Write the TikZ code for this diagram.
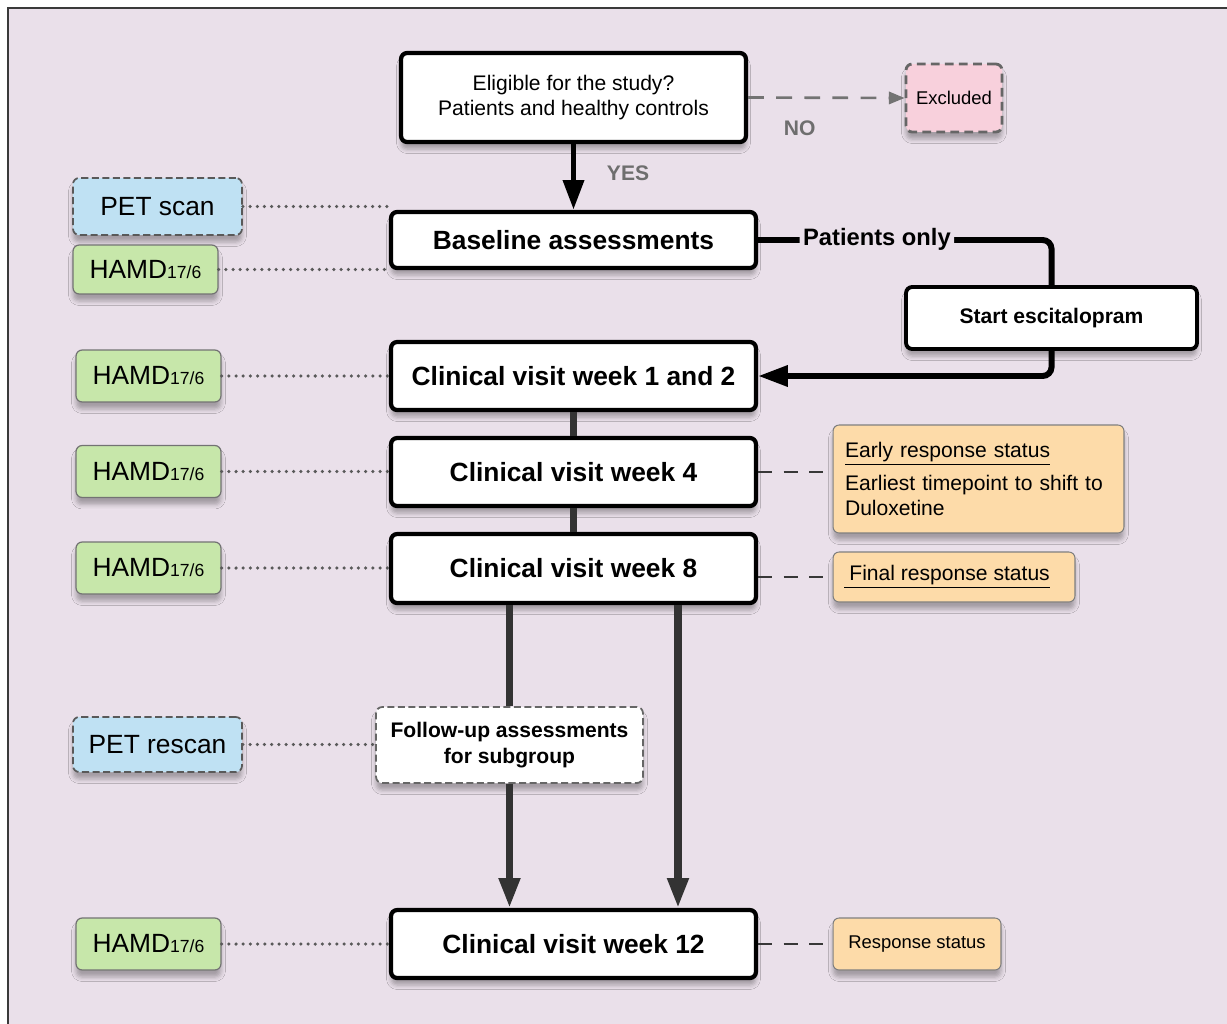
\documentclass[tikz,border=0pt]{standalone}
\usepackage{fontspec}
\setmainfont{Liberation Sans}
\usetikzlibrary{arrows.meta,shadows.blur,calc}

\definecolor{bgc}{HTML}{EAE0EA}
\definecolor{framec}{HTML}{3A3A3A}
\definecolor{petc}{HTML}{BFE1F3}
\definecolor{hamc}{HTML}{C7E7AA}
\definecolor{notec}{HTML}{FDDBA9}
\definecolor{exclc}{HTML}{F8D0DC}
\definecolor{trunkc}{HTML}{333333}
\definecolor{labc}{HTML}{6E6E6E}

\newcommand\hamdtext{HAMD{\fontsize{10}{12}\selectfont 17/6}}

\begin{document}
\begin{tikzpicture}[x=0.02cm,y=-0.02cm,
  boxbase/.style={rounded corners=3.5pt, align=center, inner sep=0pt,
    blur shadow={shadow xshift=0pt, shadow yshift=-4pt, shadow blur radius=2.5pt, shadow opacity=30}},
  visit/.style={boxbase, draw=black, line width=2.4pt, fill=white,
    minimum width=7.3cm, minimum height=1.36cm, font=\bfseries\fontsize{15}{18}\selectfont},
  hamdbox/.style={boxbase, draw=black!55, line width=0.7pt, fill=hamc,
    minimum width=2.9cm, minimum height=1.04cm, font=\fontsize{15}{18}\selectfont},
  petbox/.style={boxbase, draw=black!65, line width=1pt, dash pattern=on 4pt off 2pt, fill=petc,
    minimum width=3.38cm, font=\fontsize{15}{18}\selectfont},
  notebox/.style={boxbase, draw=black!50, line width=0.6pt, fill=notec},
  dotlink/.style={draw=black!65, line width=2pt, line cap=round, dash pattern=on 0pt off 4.1pt},
  dashlink/.style={draw=black!78, line width=1.6pt, dash pattern=on 8pt off 6.5pt},
  trunk/.style={draw=trunkc, line width=4pt},
  bigtip/.style={-{Triangle[length=17pt,width=11.5pt]}},
  answer/.style={text=labc, font=\bfseries\fontsize{12}{14}\selectfont}
]
% page and frame
\useasboundingbox (0,0) rectangle (1227,1024);
\fill[white] (0,0) rectangle (1227,1024);
\draw[framec, line width=1.7pt, fill=bgc] (8,8) rectangle (1260,1060);

% screening
\node[boxbase, draw=black, line width=2.4pt, fill=white, minimum width=6.9cm, minimum height=1.78cm,
  font=\fontsize{12}{14.6}\selectfont] (elig) at (573.5,97.5)
  {Eligible for the study?\\Patients and healthy controls};
\node[boxbase, draw=black!60, line width=1.6pt, dash pattern=on 5pt off 3pt, fill=exclc,
  minimum width=1.92cm, minimum height=1.36cm, font=\fontsize{10.5}{12}\selectfont] (excl) at (954,98) {Excluded};

% baseline
\node[visit, minimum height=1.12cm] (base) at (573.5,240) {Baseline assessments};
\node[petbox, minimum height=1.14cm] (pet) at (157.5,206.5) {PET scan};
\node[hamdbox, minimum height=0.98cm] (ham0) at (145.5,269.5) {\hamdtext};

% treatment start
\node[boxbase, draw=black, line width=2.2pt, fill=white, minimum width=5.82cm, minimum height=1.24cm,
  font=\bfseries\fontsize{12}{14}\selectfont] (start) at (1051.5,318) {Start escitalopram};

% clinical visits
\node[visit] (w12) at (573.5,376) {Clinical visit week 1 and 2};
\node[visit] (w4) at (573.5,472) {Clinical visit week 4};
\node[visit, minimum height=1.38cm] (w8) at (573.5,568.5) {Clinical visit week 8};
\node[visit] (wk12) at (573.5,944) {Clinical visit week 12};

\node[hamdbox] (ham1) at (148.5,376) {\hamdtext};
\node[hamdbox] (ham2) at (148.5,471.5) {\hamdtext};
\node[hamdbox] (ham3) at (148.5,568) {\hamdtext};
\node[hamdbox] (ham4) at (148.5,944) {\hamdtext};

% follow-up
\node[boxbase, draw=black!60, line width=1pt, dash pattern=on 4pt off 2pt, fill=white,
  minimum width=5.34cm, minimum height=1.52cm, font=\bfseries\fontsize{12}{15}\selectfont] (fu) at (509.5,745)
  {Follow-up assessments\\for subgroup};
\node[petbox, minimum height=1.1cm] (petre) at (157.5,744.5) {PET rescan};

% response notes
\node[notebox, align=left, text width=5.34cm, inner xsep=0.24cm, minimum height=2.16cm,
  font=\fontsize{12}{14.2}\selectfont] (note1) at (978.5,479)
  {\underline{Early response status}\\[4.5pt]Earliest timepoint to shift to\\Duloxetine};
\node[notebox, minimum width=4.84cm, minimum height=1.0cm, font=\fontsize{12}{14}\selectfont] (note2) at (954,577)
  {\underline{\hspace{3pt}Final response status}\hspace{8pt}};
\node[notebox, minimum width=3.36cm, minimum height=1.04cm, font=\fontsize{10.5}{12}\selectfont] (note3) at (917,944)
  {Response status};

% eligibility decision
\draw[draw=black!55, line width=1.5pt, dash pattern=on 9pt off 7pt, -{Triangle[length=9pt,width=7pt]}]
  (elig.east) -- node[answer, pos=0.33, below=9pt] {NO} (excl.west);
\draw[black, line width=3.4pt, bigtip] (elig.south) -- node[answer, right=14pt, yshift=2pt] {YES} (base.north);

% patients-only branch
\draw[black, line width=3.4pt, rounded corners=5pt]
  (base.east) -- node[pos=0.405, fill=bgc, inner xsep=2pt, inner ysep=1pt, yshift=0.5pt,
    font=\bfseries\fontsize{13.5}{15}\selectfont] {Patients only}
  (base.east -| start.north) -- (start.north);
\draw[black, line width=3.4pt, rounded corners=5pt, bigtip]
  (start.south) -- (start.south |- w12.east) -- (w12.east);

% visit trunk
\draw[trunk] (w12.south) -- (w4.north);
\draw[trunk] (w4.south) -- (w8.north);
\draw[trunk] (w8.south -| fu.north) -- (fu.north);
\draw[trunk, bigtip] (fu.south) -- (fu.south |- wk12.north);
\draw[trunk, bigtip] ([xshift=2.09cm]w8.south) -- ([xshift=2.09cm]w8.south |- wk12.north);

% assessments attached to visits
\draw[dotlink] (pet.east) -- (pet.east -| base.west);
\draw[dotlink] (ham0.east) -- (ham0.east -| base.west);
\draw[dotlink] (ham1.east) -- (w12.west);
\draw[dotlink] (ham2.east) -- (ham2.east -| w4.west);
\draw[dotlink] (ham3.east) -- (ham3.east -| w8.west);
\draw[dotlink] (petre.east) -- (petre.east -| fu.west);
\draw[dotlink] (ham4.east) -- (wk12.west);

% response notes links
\draw[dashlink] (w4.east) -- (w4.east -| note1.west);
\draw[dashlink] (note2.west -| w8.east) -- (note2.west);
\draw[dashlink] (wk12.east) -- (note3.west);
\end{tikzpicture}
\end{document}
